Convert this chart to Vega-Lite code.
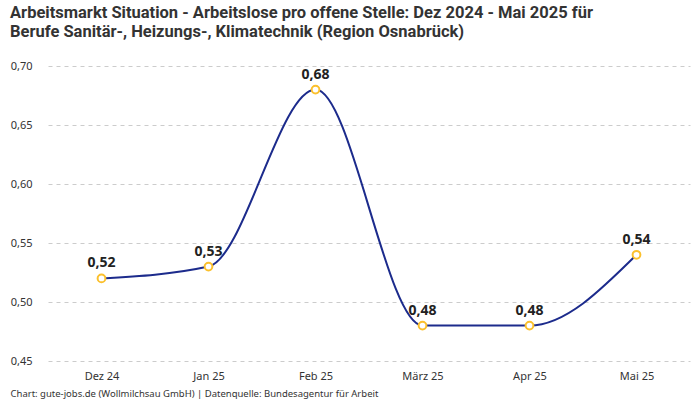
{
  "$schema": "https://vega.github.io/schema/vega-lite/v6.json",
  "autosize": "none",
  "width": 642,
  "height": 295,
  "padding": {"left": 48, "top": 66, "right": 10, "bottom": 39},
  "background": "white",
  "config": {
    "locale": {"number": {"decimal": ",", "thousands": ".", "grouping": [3], "currency": ["", " €"]}},
    "view": {"stroke": null},
    "font": "Noto Sans"
  },
  "title": {
    "text": ["Arbeitsmarkt Situation - Arbeitslose pro offene Stelle: Dez 2024 - Mai 2025 für", "Berufe Sanitär-, Heizungs-, Klimatechnik (Region Osnabrück)"],
    "anchor": "start",
    "frame": "group",
    "dx": -38,
    "offset": 20,
    "font": "Roboto",
    "fontSize": 16.5,
    "fontWeight": "bold",
    "color": "#333333",
    "lineHeight": 19
  },
  "data": {
    "values": [
      {"monat": "Dez 24", "wert": 0.52},
      {"monat": "Jan 25", "wert": 0.53},
      {"monat": "Feb 25", "wert": 0.68},
      {"monat": "März 25", "wert": 0.48},
      {"monat": "Apr 25", "wert": 0.48},
      {"monat": "Mai 25", "wert": 0.54}
    ]
  },
  "encoding": {
    "x": {
      "field": "monat",
      "type": "ordinal",
      "sort": null,
      "scale": {"type": "point", "padding": 0.5},
      "axis": {
        "title": "Chart: gute-jobs.de (Wollmilchsau GmbH) | Datenquelle: Bundesagentur für Arbeit",
        "titleX": -38,
        "titleY": 32,
        "titleAlign": "left",
        "titleBaseline": "middle",
        "titleFontSize": 9.5,
        "titleFontWeight": "normal",
        "titleColor": "#333333",
        "labelAngle": 0,
        "labelFontSize": 11,
        "labelColor": "#333333",
        "labelPadding": 9,
        "domain": false,
        "ticks": false,
        "grid": false
      }
    },
    "y": {
      "field": "wert",
      "type": "quantitative",
      "scale": {"domain": [0.45, 0.7], "nice": false, "zero": false},
      "axis": {
        "title": null,
        "values": [0.45, 0.5, 0.55, 0.6, 0.65, 0.7],
        "format": ".2f",
        "labelFontSize": 11,
        "labelColor": "#333333",
        "labelPadding": 16,
        "domain": false,
        "ticks": false,
        "grid": true,
        "gridColor": "#cccccc",
        "gridDash": [4, 4],
        "gridWidth": 1
      }
    }
  },
  "layer": [
    {
      "mark": {"type": "line", "interpolate": "monotone", "color": "#1c2b8c", "strokeWidth": 2}
    },
    {
      "mark": {"type": "point", "filled": true, "fill": "white", "stroke": "#fbc02d", "strokeWidth": 2, "size": 60, "opacity": 1}
    },
    {
      "mark": {"type": "text", "dy": -15, "fontSize": 14, "fontWeight": "bold", "color": "#222222"},
      "encoding": {"text": {"field": "wert", "type": "quantitative", "format": ".2f"}}
    }
  ]
}
